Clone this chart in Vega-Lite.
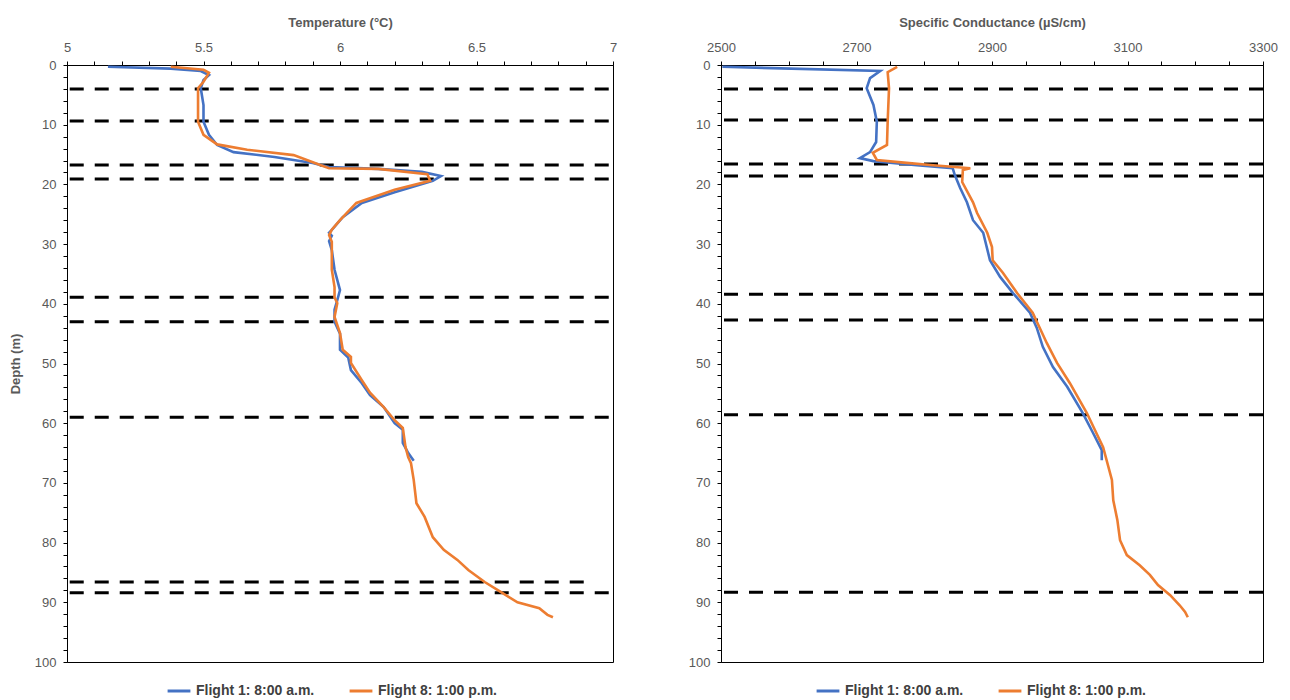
{
  "$schema": "https://vega.github.io/schema/vega-lite/v6.json",
  "padding": {"left": 8, "top": 15, "right": 5, "bottom": 3},
  "background": "white",
  "config": {
    "font": "Liberation Sans",
    "view": {"stroke": "#000", "strokeWidth": 1},
    "axis": {
      "labelColor": "#595959", "labelFontSize": 13, "titleColor": "#595959",
      "titleFontSize": 13, "titleFontWeight": "bold", "domainColor": "#000",
      "tickColor": "#000", "grid": false, "labelPadding": 7, "labelFlush": false,
      "tickSize": 4
    },
    "legend": {
      "labelFontSize": 14, "labelFontWeight": "bold", "labelColor": "#404040",
      "symbolType": "stroke", "symbolStrokeWidth": 3, "symbolSize": 520,
      "columnPadding": 28, "direction": "horizontal", "title": null
    }
  },
  "datasets": {
    "temp": [
      {"flight": "Flight 1: 8:00 a.m.", "depth": 0.3, "temp": 5.15},
      {"flight": "Flight 1: 8:00 a.m.", "depth": 0.6, "temp": 5.38},
      {"flight": "Flight 1: 8:00 a.m.", "depth": 1.0, "temp": 5.49},
      {"flight": "Flight 1: 8:00 a.m.", "depth": 1.7, "temp": 5.52},
      {"flight": "Flight 1: 8:00 a.m.", "depth": 2.5, "temp": 5.50},
      {"flight": "Flight 1: 8:00 a.m.", "depth": 3.9, "temp": 5.49},
      {"flight": "Flight 1: 8:00 a.m.", "depth": 6.7, "temp": 5.50},
      {"flight": "Flight 1: 8:00 a.m.", "depth": 9.5, "temp": 5.50},
      {"flight": "Flight 1: 8:00 a.m.", "depth": 11.7, "temp": 5.52},
      {"flight": "Flight 1: 8:00 a.m.", "depth": 13.4, "temp": 5.55},
      {"flight": "Flight 1: 8:00 a.m.", "depth": 14.6, "temp": 5.61},
      {"flight": "Flight 1: 8:00 a.m.", "depth": 15.4, "temp": 5.76},
      {"flight": "Flight 1: 8:00 a.m.", "depth": 16.4, "temp": 5.90},
      {"flight": "Flight 1: 8:00 a.m.", "depth": 17.1, "temp": 5.96},
      {"flight": "Flight 1: 8:00 a.m.", "depth": 17.4, "temp": 6.14},
      {"flight": "Flight 1: 8:00 a.m.", "depth": 17.9, "temp": 6.30},
      {"flight": "Flight 1: 8:00 a.m.", "depth": 18.6, "temp": 6.37},
      {"flight": "Flight 1: 8:00 a.m.", "depth": 19.4, "temp": 6.34},
      {"flight": "Flight 1: 8:00 a.m.", "depth": 21.3, "temp": 6.20},
      {"flight": "Flight 1: 8:00 a.m.", "depth": 23.1, "temp": 6.08},
      {"flight": "Flight 1: 8:00 a.m.", "depth": 25.5, "temp": 6.01},
      {"flight": "Flight 1: 8:00 a.m.", "depth": 27.6, "temp": 5.97},
      {"flight": "Flight 1: 8:00 a.m.", "depth": 28.1, "temp": 5.96},
      {"flight": "Flight 1: 8:00 a.m.", "depth": 28.6, "temp": 5.97},
      {"flight": "Flight 1: 8:00 a.m.", "depth": 29.5, "temp": 5.96},
      {"flight": "Flight 1: 8:00 a.m.", "depth": 31.0, "temp": 5.97},
      {"flight": "Flight 1: 8:00 a.m.", "depth": 34.3, "temp": 5.98},
      {"flight": "Flight 1: 8:00 a.m.", "depth": 37.7, "temp": 6.00},
      {"flight": "Flight 1: 8:00 a.m.", "depth": 39.4, "temp": 5.99},
      {"flight": "Flight 1: 8:00 a.m.", "depth": 41.0, "temp": 5.98},
      {"flight": "Flight 1: 8:00 a.m.", "depth": 43.0, "temp": 5.98},
      {"flight": "Flight 1: 8:00 a.m.", "depth": 45.0, "temp": 6.00},
      {"flight": "Flight 1: 8:00 a.m.", "depth": 47.7, "temp": 6.00},
      {"flight": "Flight 1: 8:00 a.m.", "depth": 49.0, "temp": 6.03},
      {"flight": "Flight 1: 8:00 a.m.", "depth": 51.1, "temp": 6.04},
      {"flight": "Flight 1: 8:00 a.m.", "depth": 53.3, "temp": 6.08},
      {"flight": "Flight 1: 8:00 a.m.", "depth": 55.3, "temp": 6.11},
      {"flight": "Flight 1: 8:00 a.m.", "depth": 57.3, "temp": 6.16},
      {"flight": "Flight 1: 8:00 a.m.", "depth": 60.0, "temp": 6.20},
      {"flight": "Flight 1: 8:00 a.m.", "depth": 61.1, "temp": 6.23},
      {"flight": "Flight 1: 8:00 a.m.", "depth": 63.3, "temp": 6.23},
      {"flight": "Flight 1: 8:00 a.m.", "depth": 65.0, "temp": 6.25},
      {"flight": "Flight 1: 8:00 a.m.", "depth": 66.3, "temp": 6.27},
      {"flight": "Flight 8: 1:00 p.m.", "depth": 0.3, "temp": 5.38},
      {"flight": "Flight 8: 1:00 p.m.", "depth": 0.8, "temp": 5.50},
      {"flight": "Flight 8: 1:00 p.m.", "depth": 1.3, "temp": 5.52},
      {"flight": "Flight 8: 1:00 p.m.", "depth": 2.8, "temp": 5.50},
      {"flight": "Flight 8: 1:00 p.m.", "depth": 3.9, "temp": 5.48},
      {"flight": "Flight 8: 1:00 p.m.", "depth": 5.5, "temp": 5.48},
      {"flight": "Flight 8: 1:00 p.m.", "depth": 9.5, "temp": 5.48},
      {"flight": "Flight 8: 1:00 p.m.", "depth": 11.7, "temp": 5.50},
      {"flight": "Flight 8: 1:00 p.m.", "depth": 13.3, "temp": 5.55},
      {"flight": "Flight 8: 1:00 p.m.", "depth": 14.2, "temp": 5.66},
      {"flight": "Flight 8: 1:00 p.m.", "depth": 15.1, "temp": 5.83},
      {"flight": "Flight 8: 1:00 p.m.", "depth": 16.8, "temp": 5.93},
      {"flight": "Flight 8: 1:00 p.m.", "depth": 17.3, "temp": 5.96},
      {"flight": "Flight 8: 1:00 p.m.", "depth": 17.4, "temp": 6.14},
      {"flight": "Flight 8: 1:00 p.m.", "depth": 18.3, "temp": 6.32},
      {"flight": "Flight 8: 1:00 p.m.", "depth": 19.4, "temp": 6.33},
      {"flight": "Flight 8: 1:00 p.m.", "depth": 20.9, "temp": 6.20},
      {"flight": "Flight 8: 1:00 p.m.", "depth": 23.1, "temp": 6.06},
      {"flight": "Flight 8: 1:00 p.m.", "depth": 26.0, "temp": 6.00},
      {"flight": "Flight 8: 1:00 p.m.", "depth": 27.6, "temp": 5.97},
      {"flight": "Flight 8: 1:00 p.m.", "depth": 28.5, "temp": 5.96},
      {"flight": "Flight 8: 1:00 p.m.", "depth": 29.6, "temp": 5.97},
      {"flight": "Flight 8: 1:00 p.m.", "depth": 31.0, "temp": 5.97},
      {"flight": "Flight 8: 1:00 p.m.", "depth": 34.3, "temp": 5.97},
      {"flight": "Flight 8: 1:00 p.m.", "depth": 37.2, "temp": 5.98},
      {"flight": "Flight 8: 1:00 p.m.", "depth": 38.9, "temp": 5.98},
      {"flight": "Flight 8: 1:00 p.m.", "depth": 39.9, "temp": 5.99},
      {"flight": "Flight 8: 1:00 p.m.", "depth": 42.2, "temp": 5.98},
      {"flight": "Flight 8: 1:00 p.m.", "depth": 44.9, "temp": 6.00},
      {"flight": "Flight 8: 1:00 p.m.", "depth": 47.7, "temp": 6.01},
      {"flight": "Flight 8: 1:00 p.m.", "depth": 48.9, "temp": 6.04},
      {"flight": "Flight 8: 1:00 p.m.", "depth": 49.9, "temp": 6.04},
      {"flight": "Flight 8: 1:00 p.m.", "depth": 52.8, "temp": 6.08},
      {"flight": "Flight 8: 1:00 p.m.", "depth": 54.9, "temp": 6.11},
      {"flight": "Flight 8: 1:00 p.m.", "depth": 57.3, "temp": 6.16},
      {"flight": "Flight 8: 1:00 p.m.", "depth": 59.5, "temp": 6.20},
      {"flight": "Flight 8: 1:00 p.m.", "depth": 60.8, "temp": 6.23},
      {"flight": "Flight 8: 1:00 p.m.", "depth": 64.0, "temp": 6.24},
      {"flight": "Flight 8: 1:00 p.m.", "depth": 65.7, "temp": 6.25},
      {"flight": "Flight 8: 1:00 p.m.", "depth": 66.7, "temp": 6.26},
      {"flight": "Flight 8: 1:00 p.m.", "depth": 69.5, "temp": 6.27},
      {"flight": "Flight 8: 1:00 p.m.", "depth": 73.4, "temp": 6.28},
      {"flight": "Flight 8: 1:00 p.m.", "depth": 75.7, "temp": 6.31},
      {"flight": "Flight 8: 1:00 p.m.", "depth": 79.1, "temp": 6.34},
      {"flight": "Flight 8: 1:00 p.m.", "depth": 81.2, "temp": 6.38},
      {"flight": "Flight 8: 1:00 p.m.", "depth": 82.9, "temp": 6.43},
      {"flight": "Flight 8: 1:00 p.m.", "depth": 84.6, "temp": 6.47},
      {"flight": "Flight 8: 1:00 p.m.", "depth": 86.6, "temp": 6.53},
      {"flight": "Flight 8: 1:00 p.m.", "depth": 88.3, "temp": 6.59},
      {"flight": "Flight 8: 1:00 p.m.", "depth": 90.0, "temp": 6.65},
      {"flight": "Flight 8: 1:00 p.m.", "depth": 91.0, "temp": 6.73},
      {"flight": "Flight 8: 1:00 p.m.", "depth": 92.1, "temp": 6.76},
      {"flight": "Flight 8: 1:00 p.m.", "depth": 92.5, "temp": 6.78}
    ],
    "cond": [
      {"flight": "Flight 1: 8:00 a.m.", "depth": 0.3, "cond": 2502},
      {"flight": "Flight 1: 8:00 a.m.", "depth": 1.0, "cond": 2735},
      {"flight": "Flight 1: 8:00 a.m.", "depth": 2.2, "cond": 2720},
      {"flight": "Flight 1: 8:00 a.m.", "depth": 3.9, "cond": 2715},
      {"flight": "Flight 1: 8:00 a.m.", "depth": 6.7, "cond": 2725},
      {"flight": "Flight 1: 8:00 a.m.", "depth": 9.5, "cond": 2730},
      {"flight": "Flight 1: 8:00 a.m.", "depth": 12.9, "cond": 2729},
      {"flight": "Flight 1: 8:00 a.m.", "depth": 14.6, "cond": 2720},
      {"flight": "Flight 1: 8:00 a.m.", "depth": 15.6, "cond": 2705},
      {"flight": "Flight 1: 8:00 a.m.", "depth": 16.1, "cond": 2725},
      {"flight": "Flight 1: 8:00 a.m.", "depth": 16.8, "cond": 2789},
      {"flight": "Flight 1: 8:00 a.m.", "depth": 17.3, "cond": 2842},
      {"flight": "Flight 1: 8:00 a.m.", "depth": 18.4, "cond": 2845},
      {"flight": "Flight 1: 8:00 a.m.", "depth": 20.6, "cond": 2853},
      {"flight": "Flight 1: 8:00 a.m.", "depth": 23.0, "cond": 2863},
      {"flight": "Flight 1: 8:00 a.m.", "depth": 26.0, "cond": 2872},
      {"flight": "Flight 1: 8:00 a.m.", "depth": 28.1, "cond": 2887},
      {"flight": "Flight 1: 8:00 a.m.", "depth": 32.7, "cond": 2897},
      {"flight": "Flight 1: 8:00 a.m.", "depth": 35.5, "cond": 2912},
      {"flight": "Flight 1: 8:00 a.m.", "depth": 38.2, "cond": 2931},
      {"flight": "Flight 1: 8:00 a.m.", "depth": 41.5, "cond": 2956},
      {"flight": "Flight 1: 8:00 a.m.", "depth": 44.0, "cond": 2966},
      {"flight": "Flight 1: 8:00 a.m.", "depth": 47.2, "cond": 2975},
      {"flight": "Flight 1: 8:00 a.m.", "depth": 50.6, "cond": 2990},
      {"flight": "Flight 1: 8:00 a.m.", "depth": 53.9, "cond": 3011},
      {"flight": "Flight 1: 8:00 a.m.", "depth": 58.3, "cond": 3034},
      {"flight": "Flight 1: 8:00 a.m.", "depth": 61.6, "cond": 3049},
      {"flight": "Flight 1: 8:00 a.m.", "depth": 64.5, "cond": 3062},
      {"flight": "Flight 1: 8:00 a.m.", "depth": 66.2, "cond": 3062},
      {"flight": "Flight 8: 1:00 p.m.", "depth": 0.3, "cond": 2760},
      {"flight": "Flight 8: 1:00 p.m.", "depth": 1.2, "cond": 2746},
      {"flight": "Flight 8: 1:00 p.m.", "depth": 3.9, "cond": 2748},
      {"flight": "Flight 8: 1:00 p.m.", "depth": 9.5, "cond": 2746},
      {"flight": "Flight 8: 1:00 p.m.", "depth": 13.4, "cond": 2745},
      {"flight": "Flight 8: 1:00 p.m.", "depth": 14.7, "cond": 2724},
      {"flight": "Flight 8: 1:00 p.m.", "depth": 15.9, "cond": 2730},
      {"flight": "Flight 8: 1:00 p.m.", "depth": 16.4, "cond": 2774},
      {"flight": "Flight 8: 1:00 p.m.", "depth": 16.8, "cond": 2813},
      {"flight": "Flight 8: 1:00 p.m.", "depth": 17.3, "cond": 2868},
      {"flight": "Flight 8: 1:00 p.m.", "depth": 17.6, "cond": 2857},
      {"flight": "Flight 8: 1:00 p.m.", "depth": 19.6, "cond": 2856},
      {"flight": "Flight 8: 1:00 p.m.", "depth": 23.0, "cond": 2872},
      {"flight": "Flight 8: 1:00 p.m.", "depth": 24.8, "cond": 2878},
      {"flight": "Flight 8: 1:00 p.m.", "depth": 28.1, "cond": 2893},
      {"flight": "Flight 8: 1:00 p.m.", "depth": 30.5, "cond": 2900},
      {"flight": "Flight 8: 1:00 p.m.", "depth": 32.7, "cond": 2901},
      {"flight": "Flight 8: 1:00 p.m.", "depth": 34.8, "cond": 2916},
      {"flight": "Flight 8: 1:00 p.m.", "depth": 38.2, "cond": 2937},
      {"flight": "Flight 8: 1:00 p.m.", "depth": 41.5, "cond": 2960},
      {"flight": "Flight 8: 1:00 p.m.", "depth": 46.6, "cond": 2981},
      {"flight": "Flight 8: 1:00 p.m.", "depth": 49.9, "cond": 2996},
      {"flight": "Flight 8: 1:00 p.m.", "depth": 53.3, "cond": 3015},
      {"flight": "Flight 8: 1:00 p.m.", "depth": 58.3, "cond": 3040},
      {"flight": "Flight 8: 1:00 p.m.", "depth": 64.0, "cond": 3064},
      {"flight": "Flight 8: 1:00 p.m.", "depth": 69.5, "cond": 3077},
      {"flight": "Flight 8: 1:00 p.m.", "depth": 72.9, "cond": 3079},
      {"flight": "Flight 8: 1:00 p.m.", "depth": 76.2, "cond": 3085},
      {"flight": "Flight 8: 1:00 p.m.", "depth": 79.6, "cond": 3089},
      {"flight": "Flight 8: 1:00 p.m.", "depth": 82.1, "cond": 3099},
      {"flight": "Flight 8: 1:00 p.m.", "depth": 83.8, "cond": 3118},
      {"flight": "Flight 8: 1:00 p.m.", "depth": 85.4, "cond": 3133},
      {"flight": "Flight 8: 1:00 p.m.", "depth": 87.1, "cond": 3145},
      {"flight": "Flight 8: 1:00 p.m.", "depth": 88.8, "cond": 3163},
      {"flight": "Flight 8: 1:00 p.m.", "depth": 90.5, "cond": 3177},
      {"flight": "Flight 8: 1:00 p.m.", "depth": 91.6, "cond": 3185},
      {"flight": "Flight 8: 1:00 p.m.", "depth": 92.5, "cond": 3189}
    ],
    "tdash": [
      {"depth": 4.0, "from": 5.01, "to": 7}, {"depth": 9.4, "from": 5.01, "to": 7},
      {"depth": 16.75, "from": 5.01, "to": 7}, {"depth": 19.1, "from": 5.01, "to": 7},
      {"depth": 38.9, "from": 5.01, "to": 7}, {"depth": 43.0, "from": 5.01, "to": 7},
      {"depth": 59.0, "from": 5.01, "to": 7}, {"depth": 86.6, "from": 5.01, "to": 6.92},
      {"depth": 88.4, "from": 5.01, "to": 7}
    ],
    "cdash": [
      {"depth": 4.0}, {"depth": 9.2}, {"depth": 16.6}, {"depth": 18.6},
      {"depth": 38.4}, {"depth": 42.7}, {"depth": 58.6}, {"depth": 88.3}
    ]
  },
  "spacing": 69,
  "resolve": {"scale": {"color": "independent", "x": "independent", "y": "independent"}, "legend": {"color": "independent"}},
  "hconcat": [
    {
      "width": 546,
      "height": 597,
      "layer": [
        {
          "data": {"name": "tdash"},
          "mark": {"type": "rule", "color": "#000", "strokeWidth": 3, "strokeDash": [14, 11]},
          "encoding": {
            "x": {
              "field": "from", "type": "quantitative",
              "scale": {"domain": [5, 7], "nice": false, "zero": false},
              "axis": {
                "orient": "top", "title": "Temperature (°C)", "titlePadding": 12,
                "values": [5, 5.1, 5.2, 5.3, 5.4, 5.5, 5.6, 5.7, 5.8, 5.9, 6, 6.1, 6.2, 6.3, 6.4, 6.5, 6.6, 6.7, 6.8, 6.9, 7],
                "format": "~g",
                "labelExpr": "abs(round(datum.value*2) - datum.value*2) < 0.001 ? datum.label : ''"
              }
            },
            "x2": {"field": "to"},
            "y": {
              "field": "depth", "type": "quantitative",
              "scale": {"domain": [0, 100], "reverse": true, "nice": false},
              "axis": {
                "title": "Depth (m)", "titlePadding": 12,
                "values": [0, 2, 4, 6, 8, 10, 12, 14, 16, 18, 20, 22, 24, 26, 28, 30, 32, 34, 36, 38, 40, 42, 44, 46, 48, 50, 52, 54, 56, 58, 60, 62, 64, 66, 68, 70, 72, 74, 76, 78, 80, 82, 84, 86, 88, 90, 92, 94, 96, 98, 100],
                "labelExpr": "datum.value % 10 === 0 ? datum.label : ''"
              }
            }
          }
        },
        {
          "data": {"name": "temp"},
          "mark": {"type": "line", "strokeWidth": 2.6},
          "encoding": {
            "x": {
              "field": "temp", "type": "quantitative",
              "scale": {"domain": [5, 7], "nice": false, "zero": false},
              "axis": {
                "orient": "top", "title": "Temperature (°C)", "titlePadding": 12,
                "values": [5, 5.1, 5.2, 5.3, 5.4, 5.5, 5.6, 5.7, 5.8, 5.9, 6, 6.1, 6.2, 6.3, 6.4, 6.5, 6.6, 6.7, 6.8, 6.9, 7],
                "format": "~g",
                "labelExpr": "abs(round(datum.value*2) - datum.value*2) < 0.001 ? datum.label : ''"
              }
            },
            "y": {
              "field": "depth", "type": "quantitative",
              "scale": {"domain": [0, 100], "reverse": true, "nice": false},
              "axis": {
                "title": "Depth (m)", "titlePadding": 12,
                "values": [0, 2, 4, 6, 8, 10, 12, 14, 16, 18, 20, 22, 24, 26, 28, 30, 32, 34, 36, 38, 40, 42, 44, 46, 48, 50, 52, 54, 56, 58, 60, 62, 64, 66, 68, 70, 72, 74, 76, 78, 80, 82, 84, 86, 88, 90, 92, 94, 96, 98, 100],
                "labelExpr": "datum.value % 10 === 0 ? datum.label : ''"
              }
            },
            "order": {"field": "depth", "type": "quantitative"},
            "color": {
              "field": "flight", "type": "nominal",
              "scale": {"domain": ["Flight 1: 8:00 a.m.", "Flight 8: 1:00 p.m."], "range": ["#4472C4", "#ED7D31"]},
              "legend": {"orient": "none", "legendX": 99, "legendY": 613}
            }
          }
        }
      ]
    },
    {
      "width": 542,
      "height": 597,
      "layer": [
        {
          "data": {"name": "cdash"},
          "mark": {"type": "rule", "color": "#000", "strokeWidth": 3, "strokeDash": [14, 11]},
          "encoding": {
            "y": {
              "field": "depth", "type": "quantitative",
              "scale": {"domain": [0, 100], "reverse": true, "nice": false},
              "axis": {
                "title": null,
                "values": [0, 2, 4, 6, 8, 10, 12, 14, 16, 18, 20, 22, 24, 26, 28, 30, 32, 34, 36, 38, 40, 42, 44, 46, 48, 50, 52, 54, 56, 58, 60, 62, 64, 66, 68, 70, 72, 74, 76, 78, 80, 82, 84, 86, 88, 90, 92, 94, 96, 98, 100],
                "labelExpr": "datum.value % 10 === 0 ? datum.label : ''"
              }
            }
          }
        },
        {
          "data": {"name": "cond"},
          "mark": {"type": "line", "strokeWidth": 2.6},
          "encoding": {
            "x": {
              "field": "cond", "type": "quantitative",
              "scale": {"domain": [2500, 3300], "nice": false, "zero": false},
              "axis": {
                "orient": "top", "title": "Specific Conductance (µS/cm)", "titlePadding": 12,
                "values": [2500, 2550, 2600, 2650, 2700, 2750, 2800, 2850, 2900, 2950, 3000, 3050, 3100, 3150, 3200, 3250, 3300],
                "format": "d",
                "labelExpr": "datum.value % 200 === 100 ? datum.label : ''"
              }
            },
            "y": {
              "field": "depth", "type": "quantitative",
              "scale": {"domain": [0, 100], "reverse": true, "nice": false},
              "axis": {
                "title": null,
                "values": [0, 2, 4, 6, 8, 10, 12, 14, 16, 18, 20, 22, 24, 26, 28, 30, 32, 34, 36, 38, 40, 42, 44, 46, 48, 50, 52, 54, 56, 58, 60, 62, 64, 66, 68, 70, 72, 74, 76, 78, 80, 82, 84, 86, 88, 90, 92, 94, 96, 98, 100],
                "labelExpr": "datum.value % 10 === 0 ? datum.label : ''"
              }
            },
            "order": {"field": "depth", "type": "quantitative"},
            "color": {
              "field": "flight", "type": "nominal",
              "scale": {"domain": ["Flight 1: 8:00 a.m.", "Flight 8: 1:00 p.m."], "range": ["#4472C4", "#ED7D31"]},
              "legend": {"orient": "none", "legendX": 94, "legendY": 613}
            }
          }
        }
      ]
    }
  ]
}
